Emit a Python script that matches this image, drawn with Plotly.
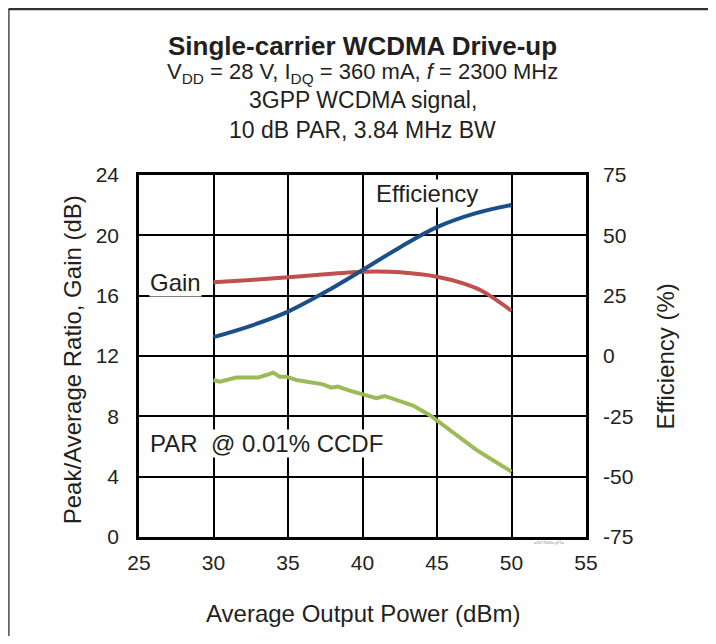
import plotly.graph_objects as go

# ---- data ----
eff_x = [30, 32.5, 35, 37.5, 40, 42.5, 45, 47.5, 50]
eff_y = [7.8, 12.5, 18.4, 26.5, 35.6, 45.0, 53.4, 59.0, 62.6]

gain_x = [30, 32.5, 35, 37.5, 40, 41, 42.5, 45, 46.75, 47.9, 49.0, 50]
gain_y = [16.89, 17.04, 17.22, 17.42, 17.58, 17.6, 17.55, 17.26, 16.82, 16.38, 15.71, 15.0]

par_x = [30, 30.42, 31.53, 32.99, 33.55, 34.0, 34.44, 34.88, 35.56, 36.68, 37.35, 37.9,
         38.35, 39.14, 40.03, 40.93, 41.49, 42.27, 43.39, 44.5, 45.63, 46.75, 47.64,
         48.54, 50.0]
par_y = [10.41, 10.3, 10.57, 10.57, 10.74, 10.9, 10.63, 10.63, 10.41, 10.19, 10.12, 9.9,
         9.97, 9.70, 9.48, 9.2, 9.35, 9.08, 8.71, 8.09, 7.27, 6.43, 5.77,
         5.22, 4.33]

x_ticks = [25, 30, 35, 40, 45, 50, 55]
left_ticks = [0, 4, 8, 12, 16, 20, 24]
right_ticks = [-75, -50, -25, 0, 25, 50, 75]
right_tick_text = ["-75", "-50", "-25", "0", "25", "50", "75"]

FONT = "Liberation Sans, Arial, sans-serif"
TXT = "#231f20"

fig = go.Figure()
fig.add_trace(go.Scatter(x=gain_x, y=gain_y, mode="lines",
                         line=dict(color="#C0504D", width=4, shape="spline"),
                         showlegend=False, yaxis="y"))
fig.add_trace(go.Scatter(x=par_x, y=par_y, mode="lines",
                         line=dict(color="#9BBB59", width=4),
                         showlegend=False, yaxis="y"))
fig.add_trace(go.Scatter(x=eff_x, y=eff_y, mode="lines",
                         line=dict(color="#1B4F8A", width=4, shape="spline"),
                         showlegend=False, yaxis="y2"))

fig.update_layout(
    width=700, height=628,
    margin=dict(l=131, r=122, t=167, b=99),
    paper_bgcolor="white", plot_bgcolor="white",
    font=dict(family=FONT, size=21, color=TXT),
    xaxis=dict(range=[25, 55], tickvals=x_ticks, showgrid=True, gridcolor="black",
               gridwidth=2, showline=True, linecolor="black", linewidth=2.5, mirror=True,
               zeroline=False, ticks="", tickfont=dict(size=21, color=TXT),
               ticklabelstandoff=5),
    yaxis=dict(range=[0, 24], tickvals=left_ticks, showgrid=True, gridcolor="black",
               gridwidth=2, showline=True, linecolor="black", linewidth=2.5, mirror=True,
               zeroline=False, ticks="", tickfont=dict(size=21, color=TXT),
               ticklabelstandoff=13),
    yaxis2=dict(range=[-75, 75], tickvals=right_ticks, ticktext=right_tick_text,
                overlaying="y", side="right",
                showgrid=False, zeroline=False, showline=False, ticks="",
                tickfont=dict(size=21, color=TXT), ticklabelstandoff=16),
)

# axis titles
fig.add_annotation(text="Peak/Average Ratio, Gain (dB)", xref="paper", yref="paper",
                   x=-0.1485, y=0.49, textangle=-90, showarrow=False,
                   font=dict(size=24, color=TXT), xanchor="center", yanchor="middle")
fig.add_annotation(text="Efficiency (%)", xref="paper", yref="paper",
                   x=1.1777, y=0.5, textangle=-90, showarrow=False,
                   font=dict(size=24, color=TXT), xanchor="center", yanchor="middle")
fig.add_annotation(text="Average Output Power (dBm)", xref="paper", yref="paper",
                   x=0.5, y=-0.21, showarrow=False,
                   font=dict(size=24, color=TXT), xanchor="center", yanchor="middle")

# title block
fig.add_annotation(text="<b>Single-carrier WCDMA Drive-up</b>", xref="paper", yref="paper",
                   x=0.5, y=1.357, showarrow=False, font=dict(size=26, color=TXT),
                   xanchor="center", yanchor="middle")
fig.add_annotation(text="V<sub>DD</sub> = 28 V, I<sub>DQ</sub> = 360 mA, <i>f</i> = 2300 MHz",
                   xref="paper", yref="paper", x=0.5, y=1.282, showarrow=False,
                   font=dict(size=22, color=TXT), xanchor="center", yanchor="middle")
fig.add_annotation(text="3GPP WCDMA signal,", xref="paper", yref="paper", x=0.5, y=1.207,
                   showarrow=False, font=dict(size=23, color=TXT),
                   xanchor="center", yanchor="middle")
fig.add_annotation(text="10 dB PAR, 3.84 MHz BW", xref="paper", yref="paper", x=0.5, y=1.124,
                   showarrow=False, font=dict(size=23, color=TXT),
                   xanchor="center", yanchor="middle")

# curve labels
fig.add_annotation(text="Efficiency", x=44.33, y=22.8, xref="x", yref="y", showarrow=False,
                   font=dict(size=24, color=TXT), bgcolor="white", borderpad=0,
                   xanchor="center", yanchor="middle")
fig.add_annotation(text="Gain", x=25.7, y=16.9, xref="x", yref="y", showarrow=False,
                   font=dict(size=24, color=TXT), bgcolor="white", borderpad=0,
                   xanchor="left", yanchor="middle")
fig.add_annotation(text="PAR  @ 0.01% CCDF", x=25.7, y=6.2, xref="x", yref="y", showarrow=False,
                   font=dict(size=24, color=TXT), bgcolor="white", borderpad=0,
                   xanchor="left", yanchor="middle")
fig.add_annotation(text="a2677006x-g71a", xref="paper", yref="paper", x=0.958, y=-0.014,
                   showarrow=False, font=dict(size=4, color="#888"),
                   xanchor="right", yanchor="middle")

# outer frame (left and top edges)
fig.add_shape(type="line", xref="paper", yref="paper", x0=-0.2919, x1=-0.2919,
              y0=1.4586, y1=-0.3, line=dict(color="#666", width=2.5))
fig.add_shape(type="line", xref="paper", yref="paper", x0=-0.2919, x1=1.3,
              y0=1.4586, y1=1.4586, line=dict(color="#333", width=2.5))

fig.write_html("out.html")
